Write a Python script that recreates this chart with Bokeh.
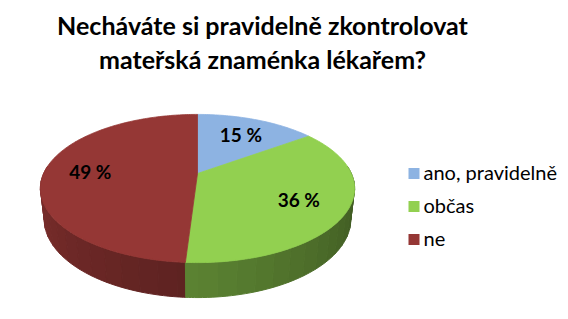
import math
import numpy as np
from bokeh.plotting import figure
from bokeh.models import Range1d, Label
from bokeh.core.properties import value
from bokeh.embed import file_html
from bokeh.resources import INLINE

# ---- data ----
categories = ["ano, pravidelně", "občas", "ne"]
values = [15, 36, 49]
slice_colors = ["#8DB3E2", "#92D050", "#953735"]
label_texts = [f"{v} %" for v in values]
title_lines = ["Necháváte si pravidelně zkontrolovat", "mateřská znaménka lékařem?"]

# ---- 3D pie projection (perspective) ----
W, H_PX = 568, 319
CX, CY = 197.0, 173.0
FOC = 674.0
PHI = math.radians(27.5)
DIST = 4.38
THICK = 0.226
S, C = math.sin(PHI), math.cos(PHI)


def proj(theta_deg, r=1.0, down=0.0):
    th = math.radians(theta_deg)
    X = r * math.sin(th)
    Zf = r * math.cos(th)
    y_up = Zf * S - down * C
    depth = DIST + Zf * C + down * S
    return CX + FOC * X / depth, CY - FOC * y_up / depth


def hex_to_rgb(h):
    h = h.lstrip("#")
    return tuple(int(h[i:i + 2], 16) for i in (0, 2, 4))


def shade(h, f):
    r, g, b = hex_to_rgb(h)
    return "#%02x%02x%02x" % (int(r * f), int(g * f), int(b * f))


total = float(sum(values))
bounds = [0.0]
for v in values:
    bounds.append(bounds[-1] + 360.0 * v / total)


def slice_of(theta):
    for i in range(len(values)):
        if bounds[i] <= theta < bounds[i + 1]:
            return i
    return len(values) - 1


p = figure(width=W, height=H_PX, x_range=Range1d(0, W), y_range=Range1d(H_PX, 0),
           x_axis_type=None, y_axis_type=None, toolbar_location=None,
           output_backend="svg", min_border=0, outline_line_color=None)
p.background_fill_color = "white"
p.border_fill_color = "white"

# side strips (faceted shading like Excel)
step = 6.0
cuts = sorted(set([84.0, 276.0] + [b for b in bounds if 84.0 < b < 276.0] +
                  list(np.arange(84.0, 276.0, step))))
strips = []
for s0, s1 in zip(cuts[:-1], cuts[1:]):
    m = (s0 + s1) / 2
    i = slice_of(m)
    f = 0.4 + (m - 90.0) / 180.0 * 0.45
    f = max(0.35, min(0.9, f))
    xs, ys = [], []
    for a in np.linspace(s0, s1, 5):
        q = proj(a); xs.append(q[0]); ys.append(q[1])
    for a in np.linspace(s1, s0, 5):
        q = proj(a, down=THICK); xs.append(q[0]); ys.append(q[1])
    depth = math.cos(math.radians(m))
    strips.append((depth, xs, ys, shade(slice_colors[i], f)))
strips.sort(key=lambda s: -s[0])
p.patches(xs=[s[1] for s in strips], ys=[s[2] for s in strips],
          fill_color=[s[3] for s in strips], line_color=[s[3] for s in strips], line_width=1)

# top faces
top_xs, top_ys = [], []
for i in range(len(values)):
    a0, a1 = bounds[i], bounds[i + 1]
    n = max(2, int((a1 - a0) / 1.0))
    angs = np.linspace(a0, a1, n + 1)
    pts = [proj(0, r=0.0)] + [proj(a) for a in angs]
    top_xs.append([q[0] for q in pts])
    top_ys.append([q[1] for q in pts])
p.patches(xs=top_xs, ys=top_ys, fill_color=slice_colors, line_color=slice_colors, line_width=0.8)

# data labels
lx, ly = [], []
for i in range(len(values)):
    mid = (bounds[i] + bounds[i + 1]) / 2
    q = proj(mid, r=0.7)
    lx.append(q[0]); ly.append(q[1])
p.text(x=lx, y=ly, text=label_texts, text_font=value("Lato"), text_font_style="bold",
       text_font_size="19px", text_color="black", text_align="center", text_baseline="middle")

# title
for k, line in enumerate(title_lines):
    p.add_layout(Label(x=262, y=24 + 34 * k, text=line, text_font="Lato", text_font_style="bold",
                       text_font_size="25px", text_color="black", text_align="center",
                       text_baseline="middle"))

# legend
ly0 = [173 + 33 * k for k in range(len(categories))]
p.scatter(x=[413.5] * len(categories), y=ly0, marker="square", size=11,
          fill_color=slice_colors, line_color=None)
p.text(x=[423] * len(categories), y=[y - 2 for y in ly0], text=categories,
       text_font=value("Lato"), text_font_size="20px", text_color="black",
       text_align="left", text_baseline="middle")

open("out.html", "w").write(file_html(p, INLINE))
